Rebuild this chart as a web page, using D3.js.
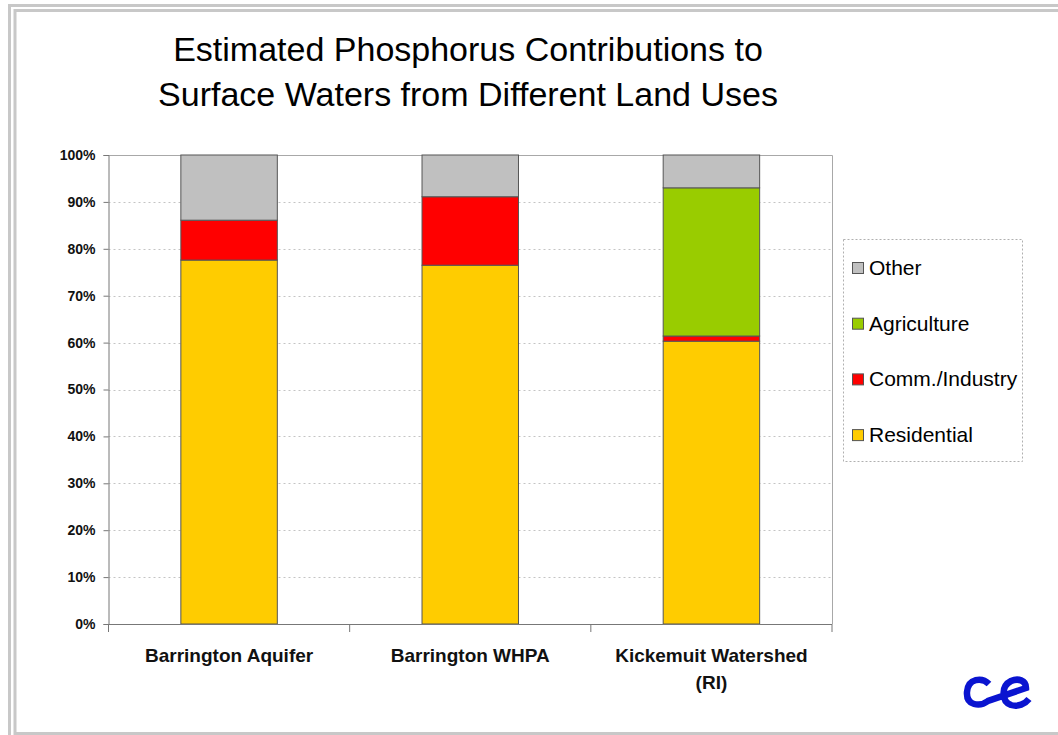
<!DOCTYPE html>
<html><head><meta charset="utf-8">
<script src="https://cdn.jsdelivr.net/npm/d3@7/dist/d3.min.js"></script>
<style>
html,body{margin:0;padding:0;background:#fff;}
svg{display:block;font-family:Arial,"Liberation Sans",sans-serif;}
</style></head>
<body>
<svg id="chart" width="1058" height="735"></svg>
<script>
const categories = ["Barrington Aquifer", "Barrington WHPA", "Kickemuit Watershed (RI)"];
const categoryLines = [["Barrington Aquifer"], ["Barrington WHPA"], ["Kickemuit Watershed", "(RI)"]];
const residential = [77.6, 76.5, 60.3];
const commIndustry = [8.5, 14.6, 1.1];
const agriculture = [0, 0, 31.6];
const other = [13.9, 8.9, 7.0];
const seriesNames = ["Residential", "Comm./Industry", "Agriculture", "Other"];
const seriesColors = ["#FFCC00", "#FF0000", "#99CC00", "#C0C0C0"];
const yTicks = [0, 10, 20, 30, 40, 50, 60, 70, 80, 90, 100];
const titleLines = ["Estimated Phosphorus Contributions to", "Surface Waters from Different Land Uses"];

const svg = d3.select("#chart");

// outer frame
svg.append("path").attr("d", "M9.5,1058 V5.5 H1058").attr("fill","none").attr("stroke","#c8c8c8").attr("stroke-width",3);
svg.append("path").attr("d", "M15,1058 V10.5 H1058").attr("fill","none").attr("stroke","#c8c8c8").attr("stroke-width",3);
svg.append("line").attr("x1",15).attr("x2",1058).attr("y1",733.5).attr("y2",733.5).attr("stroke","#c8c8c8").attr("stroke-width",3);

// title
svg.append("g").selectAll("text").data(titleLines).join("text")
  .attr("x", 468).attr("y", (d,i) => 61 + i*45)
  .attr("text-anchor","middle").attr("font-size", 34).attr("fill","#000").text(d => d);

const pLeft = 108.5, pRight = 832, pTop = 155, pBottom = 624;
const x = d3.scaleBand().domain(categories).range([pLeft, pRight]).paddingInner(0.6).paddingOuter(0.3);
const band = d3.scaleBand().domain(categories).range([pLeft, pRight]);
const y = d3.scaleLinear().domain([0, 100]).range([pBottom, pTop]);

// gridlines
svg.append("g").selectAll("line").data(yTicks.filter(t => t > 0 && t < 100)).join("line")
  .attr("x1", pLeft).attr("x2", pRight).attr("y1", d => Math.round(y(d))+0.5).attr("y2", d => Math.round(y(d))+0.5)
  .attr("stroke","#c4c4c4").attr("stroke-dasharray","2,3");
// plot border top/right
svg.append("path").attr("d", `M${pLeft},${pTop+0.5} H${pRight+0.5} V${pBottom}`).attr("fill","none").attr("stroke","#a8a8a8").attr("stroke-width",1);

// stacked data
const rows = categories.map((c,i) => ({cat:c, Residential:residential[i], "Comm./Industry":commIndustry[i], Agriculture:agriculture[i], Other:other[i]}));
const stack = d3.stack().keys(seriesNames)(rows);
const color = d3.scaleOrdinal().domain(seriesNames).range(seriesColors);

svg.append("g").selectAll("g").data(stack).join("g")
  .attr("fill", d => color(d.key))
  .selectAll("rect").data(d => d.filter(v => v[1]-v[0] > 0)).join("rect")
  .attr("x", d => x(d.data.cat)).attr("width", x.bandwidth())
  .attr("y", d => y(d[1])).attr("height", d => y(d[0]) - y(d[1]))
  .attr("stroke","#555").attr("stroke-width",1);

// y axis
const yAxis = svg.append("g").attr("transform", `translate(${pLeft},0)`)
  .call(d3.axisLeft(y).tickValues(yTicks).tickFormat(d => d + "%").tickSize(5).tickPadding(8));
yAxis.select(".domain").attr("stroke","#777");
yAxis.selectAll(".tick line").attr("stroke","#777");
yAxis.selectAll("text").attr("font-size", 14).attr("font-weight","bold").attr("fill","#111")
  .attr("font-family","Arial, 'Liberation Sans', sans-serif");

// x axis
const xg = svg.append("g").attr("transform", `translate(0,${pBottom})`);
xg.append("line").attr("x1", pLeft).attr("x2", pRight).attr("y1",0.5).attr("y2",0.5).attr("stroke","#777");
const bounds = [pLeft].concat(categories.map(c => band(c) + band.bandwidth()));
xg.selectAll("line.tk").data(bounds).join("line").attr("class","tk")
  .attr("x1", d => d).attr("x2", d => d).attr("y1", 0).attr("y2", 8).attr("stroke","#777");
xg.selectAll("text").data(categories).join("text")
  .attr("text-anchor","middle").attr("font-size",19).attr("font-weight","bold").attr("fill","#111")
  .attr("x", d => band(d) + band.bandwidth()/2)
  .each(function(d,i){
    d3.select(this).selectAll("tspan").data(categoryLines[i]).join("tspan")
      .attr("x", band(d) + band.bandwidth()/2).attr("y", (t,j) => 38 + j*27).text(t => t);
  });

// legend
const lg = svg.append("g");
lg.append("rect").attr("x", 843.5).attr("y", 239.5).attr("width", 179).attr("height", 222)
  .attr("fill","#fff").attr("stroke","#b0b0b0").attr("stroke-dasharray","2,2");
const legOrder = seriesNames.slice().reverse();
const li = lg.selectAll("g.it").data(legOrder).join("g").attr("class","it")
  .attr("transform", (d,i) => `translate(852,${268 + i*55.7})`);
li.append("rect").attr("x",0.5).attr("y",-5.5).attr("width",11).attr("height",11)
  .attr("fill", d => color(d)).attr("stroke","#555");
li.append("text").attr("x", 17).attr("y", 7).attr("font-size",21).attr("fill","#000").text(d => d);

// logo
const logo = svg.append("g").attr("fill","none").attr("stroke","#0A14D0").attr("stroke-width",6.5).attr("stroke-linecap","butt");
logo.append("path").attr("d","M989,684 C982,677 968,678 967,692 C966,706 980,707 988,701 L1026,688 C1026,680 1018,678 1011,681 C1001,686 1001,701 1011,705 C1018,707 1025,704 1029,699");
</script>
</body></html>
